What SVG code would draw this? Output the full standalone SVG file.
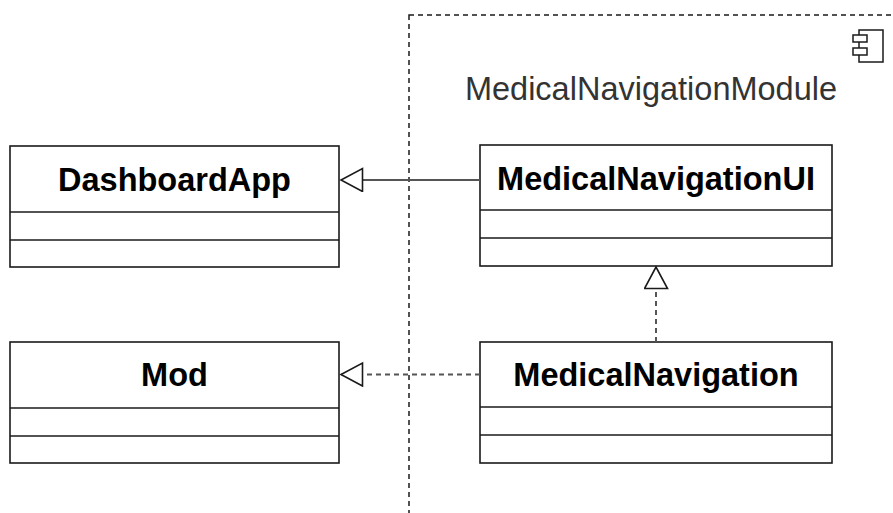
<svg xmlns="http://www.w3.org/2000/svg" width="893" height="513" viewBox="0 0 893 513">
  <defs>
    <style>
      .box { fill: #ffffff; stroke: #1a1a1a; stroke-width: 1.6; }
      .sep { stroke: #1a1a1a; stroke-width: 1.6; }
      .name { font-family: "Liberation Sans", Arial, sans-serif; font-size: 32.5px; font-weight: bold; fill: #000000; text-anchor: middle; }
      .module { font-family: "Liberation Sans", Arial, sans-serif; font-size: 32.5px; fill: #333333; text-anchor: middle; }
      .edge { fill: none; stroke: #555555; stroke-width: 2; }
      .dashed { stroke-dasharray: 5 4; }
      .frame { fill: none; stroke: #1a1a1a; stroke-width: 1.5; stroke-dasharray: 5 4; }
      .icon { fill: #ffffff; stroke: #1a1a1a; stroke-width: 1.5; }
    </style>
    <marker id="hollow-tri" markerUnits="userSpaceOnUse" markerWidth="26" markerHeight="27" refX="22.5" refY="12" orient="auto">
      <path d="M1,0.5 L22.5,12 L1,23.5 Z" fill="#ffffff" stroke="#1a1a1a" stroke-width="1.6"/>
    </marker>
  </defs>

  <!-- component frame -->
  <g id="MedicalNavigationModule">
    <rect class="frame" x="409" y="15" width="520" height="540"/>
    <rect class="icon" x="859" y="30" width="24" height="32"/>
    <rect class="icon" x="853" y="35" width="14" height="7"/>
    <rect class="icon" x="853" y="48" width="14" height="7"/>
    <text class="module" x="651" y="100">MedicalNavigationModule</text>
  </g>

  <!-- classes -->
  <g id="DashboardApp">
    <rect class="box" x="10" y="146" width="329" height="121"/>
    <line class="sep" x1="10" y1="212" x2="339" y2="212"/>
    <line class="sep" x1="10" y1="240" x2="339" y2="240"/>
    <text class="name" x="174.5" y="190.5">DashboardApp</text>
  </g>

  <g id="Mod">
    <rect class="box" x="10" y="342" width="329" height="121"/>
    <line class="sep" x1="10" y1="408" x2="339" y2="408"/>
    <line class="sep" x1="10" y1="436" x2="339" y2="436"/>
    <text class="name" x="174.5" y="386">Mod</text>
  </g>

  <g id="MedicalNavigationUI">
    <rect class="box" x="480" y="145" width="352" height="121"/>
    <line class="sep" x1="480" y1="210" x2="832" y2="210"/>
    <line class="sep" x1="480" y1="238" x2="832" y2="238"/>
    <text class="name" x="656" y="189.5">MedicalNavigationUI</text>
  </g>

  <g id="MedicalNavigation">
    <rect class="box" x="480" y="342" width="352" height="121"/>
    <line class="sep" x1="480" y1="407" x2="832" y2="407"/>
    <line class="sep" x1="480" y1="435" x2="832" y2="435"/>
    <text class="name" x="656" y="386">MedicalNavigation</text>
  </g>

  <!-- connectors -->
  <g id="connectors">
    <line class="edge" x1="480" y1="180" x2="341" y2="180" marker-end="url(#hollow-tri)"/>
    <line class="edge dashed" x1="480" y1="374.5" x2="341" y2="374.5" marker-end="url(#hollow-tri)"/>
    <line class="edge dashed" x1="656" y1="342" x2="656" y2="267" marker-end="url(#hollow-tri)"/>
  </g>
</svg>
